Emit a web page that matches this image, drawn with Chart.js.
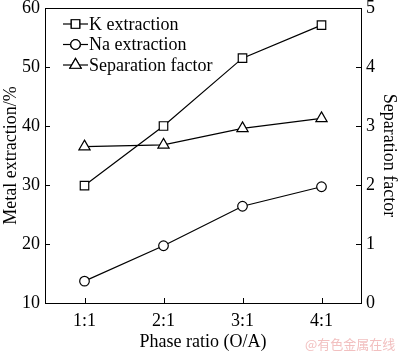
<!DOCTYPE html>
<html>
<head>
<meta charset="utf-8">
<script src="https://cdn.jsdelivr.net/npm/chart.js@4/dist/chart.umd.min.js"></script>
<style>
  html, body { margin: 0; padding: 0; background: #fff; }
  #wrap { position: relative; width: 400px; height: 353px; }
  #mark { position: absolute; left: 305px; top: 334px; font: 13px "Noto Sans CJK SC", sans-serif; color: #f2c0c0; white-space: nowrap; }
</style>
</head>
<body>
<div id="wrap">
  <canvas id="chart" width="400" height="353"></canvas>
  <div id="mark">@有色金属在线</div>
</div>
<script>
(() => {
  const ratios = ["1:1", "2:1", "3:1", "4:1"];
  const kExtraction = [29.9, 40.0, 51.5, 57.1];
  const naExtraction = [13.7, 19.7, 26.4, 29.7];
  const separationFactor = [2.65, 2.68, 2.96, 3.13];

  const serif = "'Liberation Serif', 'Times New Roman', serif";

  // inward tick marks and the top border of the frame
  const frame = {
    id: "frame",
    afterDraw(chart) {
      const { ctx, chartArea: a } = chart;
      ctx.save();
      ctx.strokeStyle = "#000";
      ctx.lineWidth = 1;
      ctx.beginPath();
      ctx.moveTo(a.left, a.top + 0.5);
      ctx.lineTo(a.right, a.top + 0.5);
      const len = 5;
      chart.scales.x.ticks.forEach((t, i) => {
        const px = Math.round(chart.scales.x.getPixelForTick(i)) + 0.5;
        ctx.moveTo(px, a.bottom);
        ctx.lineTo(px, a.bottom - len);
      });
      chart.scales.y.ticks.forEach((t, i) => {
        const py = Math.round(chart.scales.y.getPixelForTick(i)) + 0.5;
        ctx.moveTo(a.left, py);
        ctx.lineTo(a.left + len, py);
      });
      chart.scales.y2.ticks.forEach((t, i) => {
        const py = Math.round(chart.scales.y2.getPixelForTick(i)) + 0.5;
        ctx.moveTo(a.right, py);
        ctx.lineTo(a.right - len, py);
      });
      ctx.stroke();
      ctx.restore();
    }
  };

  // legend with line + marker samples, inside the top-left corner
  const innerLegend = {
    id: "innerLegend",
    afterDraw(chart) {
      const { ctx, chartArea: a } = chart;
      ctx.save();
      ctx.font = "18px " + serif;
      ctx.textBaseline = "middle";
      chart.data.datasets.forEach((ds, i) => {
        const y = a.top + 16 + i * 20.5;
        const x0 = a.left + 18;
        ctx.strokeStyle = "#000";
        ctx.lineWidth = 1.2;
        ctx.beginPath();
        ctx.moveTo(x0, y);
        ctx.lineTo(x0 + 25, y);
        ctx.stroke();
        ctx.fillStyle = "#fff";
        Chart.helpers.drawPoint(ctx, {
          pointStyle: ds.pointStyle,
          radius: ds.pointRadius,
          borderWidth: 1.2
        }, x0 + 12.5, y);
        ctx.fill();
        ctx.stroke();
        ctx.fillStyle = "#000";
        ctx.fillText(ds.label, x0 + 26, y + 1);
      });
      ctx.restore();
    }
  };

  const common = {
    borderColor: "#000",
    borderWidth: 1.2,
    pointBackgroundColor: "#fff",
    pointBorderColor: "#000",
    pointBorderWidth: 1.2,
    tension: 0
  };

  const font = { family: serif, size: 18 };

  new Chart(document.getElementById("chart"), {
    type: "line",
    data: {
      labels: ratios,
      datasets: [
        { ...common, label: "K extraction", data: kExtraction, yAxisID: "y", pointStyle: "rect", pointRadius: 6 },
        { ...common, label: "Na extraction", data: naExtraction, yAxisID: "y", pointStyle: "circle", pointRadius: 4.8 },
        { ...common, label: "Separation factor", data: separationFactor, yAxisID: "y2", pointStyle: "triangle", pointRadius: 6.5 }
      ]
    },
    options: {
      responsive: false,
      animation: false,
      layout: { padding: { top: 8, left: 0, right: 0, bottom: 0 } },
      plugins: { legend: { display: false }, tooltip: { enabled: false } },
      scales: {
        x: {
          offset: true,
          grid: { display: false, drawTicks: false },
          border: { display: true, color: "#000", width: 1 },
          ticks: { color: "#000", font, padding: 7 },
          title: { display: true, text: "Phase ratio (O/A)", color: "#000", font, padding: { top: 0, bottom: 0 } },
          afterFit: (s) => { s.height = 50; s.paddingLeft = 0; s.paddingRight = 0; }
        },
        y: {
          position: "left",
          min: 10, max: 60,
          grid: { display: false, drawTicks: false },
          border: { display: true, color: "#000", width: 1 },
          ticks: { stepSize: 10, color: "#000", font, padding: 5 },
          title: { display: true, text: "Metal extraction/%", color: "#000", font, padding: 0 },
          afterFit: (s) => { s.width = 45; s.paddingTop = 0; s.paddingBottom = 0; }
        },
        y2: {
          position: "right",
          min: 0, max: 5,
          grid: { display: false, drawTicks: false },
          border: { display: true, color: "#000", width: 1 },
          ticks: { stepSize: 1, color: "#000", font, padding: 5 },
          title: { display: true, text: "Separation factor", color: "#000", font, padding: 0 },
          afterFit: (s) => { s.width = 39; s.paddingTop = 0; s.paddingBottom = 0; }
        }
      }
    },
    plugins: [frame, innerLegend]
  });
})();
</script>
</body>
</html>
